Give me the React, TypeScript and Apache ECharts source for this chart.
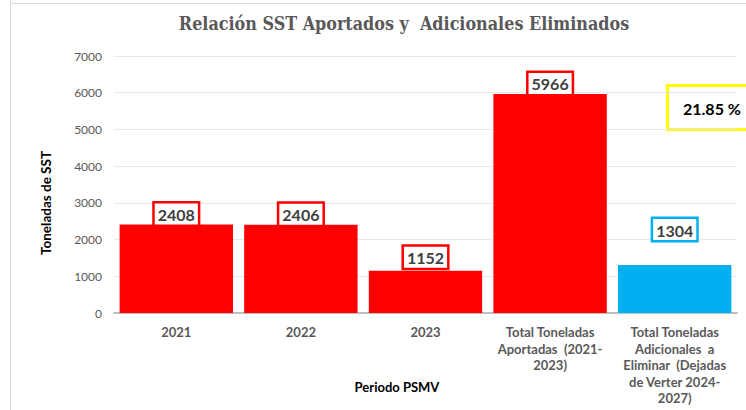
import React, { useEffect, useRef } from "react";
import * as echarts from "echarts";

const categories = [
  "2021",
  "2022",
  "2023",
  "Total Toneladas\nAportadas  (2021-\n2023)",
  "Total Toneladas\nAdicionales  a\nEliminar  (Dejadas\nde Verter 2024-\n2027)",
];
const values = [2408, 2406, 1152, 5966, 1304];
const barColors = ["#ff0000", "#ff0000", "#ff0000", "#ff0000", "#00b0f0"];
const labelDistances = [0, 0, 3, 0, 25];
const yTicks = { min: 0, max: 7000, interval: 1000 };
const percentText = "21.85 %";

export default function App() {
  const ref = useRef<HTMLDivElement>(null);
  useEffect(() => {
    const chart = echarts.init(ref.current!, null, { renderer: "svg" });
    const font = "Lato, 'Open Sans', sans-serif";
    chart.setOption({
      animation: false,
      backgroundColor: "#ffffff",
      title: {
        text: "Relación SST Aportados y  Adicionales Eliminados",
        left: 399,
        textAlign: "center",
        top: 9,
        textStyle: {
          fontFamily: "'DejaVu Serif Condensed', 'DejaVu Serif', serif",
          fontWeight: "bold",
          fontSize: 17.8,
          color: "#595959",
        },
      },
      grid: { left: 114, right: 9, top: 56, bottom: 97 },
      xAxis: {
        type: "category",
        data: categories,
        axisTick: { show: false },
        axisLine: { lineStyle: { color: "#bfbfbf", width: 2 } },
        axisLabel: {
          interval: 0,
          margin: 11,
          fontFamily: font,
          fontWeight: "bold",
          fontSize: 13,
          color: "#595959",
          lineHeight: 16.5,
        },
      },
      yAxis: {
        type: "value",
        min: yTicks.min,
        max: yTicks.max,
        interval: yTicks.interval,
        axisLine: { show: false },
        axisTick: { show: false },
        splitLine: { lineStyle: { color: "#e9e9e9", width: 1 } },
        axisLabel: {
          margin: 12,
          formatter: (v: number) => String(v),
          fontFamily: font,
          fontSize: 12,
          color: "#595959",
        },
      },
      series: [
        {
          type: "bar",
          barCategoryGap: "9%",
          data: values.map((v, i) => ({
            value: v,
            itemStyle: { color: barColors[i] },
            label: {
              show: true,
              position: "top",
              distance: labelDistances[i],
              borderColor: barColors[i],
              borderWidth: 2.5,
              backgroundColor: "#ffffff",
              padding: [3, 3, 2, 3],
              fontFamily: font,
              fontWeight: "bold",
              fontSize: 16,
              color: "#404040",
            },
          })),
        },
      ],
      graphic: [
        {
          type: "line",
          shape: { x1: 10.5, y1: 0, x2: 10.5, y2: 410 },
          style: { stroke: "#d9d9d9", lineWidth: 1 },
        },
        {
          type: "line",
          shape: { x1: 10, y1: 3.5, x2: 746, y2: 3.5 },
          style: { stroke: "#d9d9d9", lineWidth: 1 },
        },
        {
          type: "rect",
          shape: { x: 667.5, y: 85.5, width: 90, height: 44 },
          style: { fill: "#ffffff", stroke: "#ffff00", lineWidth: 3 },
        },
        {
          type: "text",
          x: 683,
          y: 108,
          style: {
            text: percentText,
            fontFamily: font,
            fontWeight: "bold",
            fontSize: 16,
            fill: "#000000",
            textVerticalAlign: "middle",
          },
        },
        {
          type: "text",
          x: 397,
          y: 387,
          style: {
            text: "Periodo PSMV",
            fontFamily: font,
            fontWeight: "bold",
            fontSize: 13,
            fill: "#000000",
            textAlign: "center",
            textVerticalAlign: "middle",
          },
        },
        {
          type: "text",
          x: 46,
          y: 203,
          rotation: Math.PI / 2,
          style: {
            text: "Toneladas de SST",
            fontFamily: font,
            fontWeight: "bold",
            fontSize: 13.5,
            fill: "#000000",
            textAlign: "center",
            textVerticalAlign: "middle",
          },
        },
      ],
    });
    return () => chart.dispose();
  }, []);
  return (
    <div
      ref={ref}
      style={{ position: "absolute", left: 0, top: 0, width: 746, height: 410 }}
    />
  );
}
